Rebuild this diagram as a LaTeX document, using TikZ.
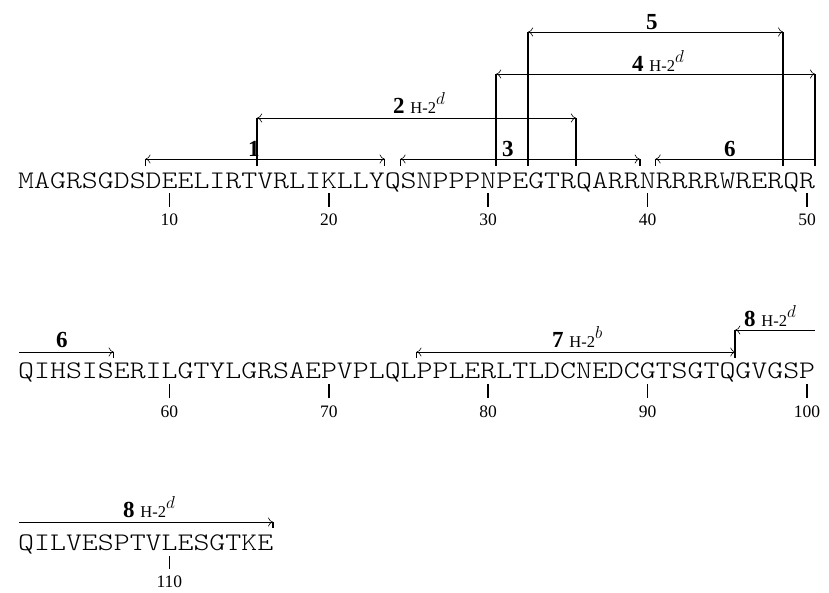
\documentclass[tikz,border=0pt]{standalone}
\usepackage{fontspec}
\setmainfont{Liberation Serif}
\newfontfamily\seqfont[FakeStretch=1.2]{Latin Modern Mono Light}
\usetikzlibrary{arrows.meta}

\newcommand{\cw}{15.94}
\newcommand{\hd}[1]{{\mdseries\fontsize{16.5}{17}\selectfont H-2\raisebox{9pt}{\fontsize{17}{17}\selectfont$#1$}}}

\tikzset{
  seq/.style={font=\seqfont\fontsize{25.3}{30}\selectfont, inner sep=0pt, anchor=base west},
  num/.style={font=\fontsize{17.5}{18}\selectfont, inner sep=0pt, anchor=base},
  epi/.style={font=\bfseries\fontsize{23}{24}\selectfont, inner sep=0pt, anchor=base west},
  region/.style={line width=0.6pt},
  endbar/.style={line width=1.7pt},
}

\begin{document}
\begin{tikzpicture}[x=1pt,y=-1pt,>={Computer Modern Rightarrow[length=5pt,width=9pt]}]
    \useasboundingbox (0,0) rectangle (829,592);
    %sequence
    \node[seq] (row1) at (18,188) {MAGRSGDSDEELIRTVRLIKLLYQSNPPPNPEGTRQARRNRRRRWRERQR};
    \node[seq] (row2) at (18,378) {QIHSISERILGTYLGRSAEPVPLQLPPLERLTLDCNEDCGTSGTQGVGSP};
    \node[seq] (row3) at (18,550) {QILVESPTVLESGTKE};
    %numbering
    \foreach \i in {1,...,5} {
      \draw[endbar] ({18+(10*\i-0.5)*\cw},193) -- ({18+(10*\i-0.5)*\cw},207);
      \node[num] (n1-\i) at ({18+(10*\i-0.5)*\cw},225) {\number\numexpr10*\i\relax};
      \draw[endbar] ({18+(10*\i-0.5)*\cw},384) -- ({18+(10*\i-0.5)*\cw},398);
      \node[num] (n2-\i) at ({18+(10*\i-0.5)*\cw},417) {\number\numexpr50+10*\i\relax};
    }
    \draw[endbar] ({18+9.5*\cw},556) -- ({18+9.5*\cw},569);
    \node[num] (n3-1) at ({18+9.5*\cw},587) {110};
    %ends, first line
    \coordinate (base1) at (0,166);
    \coordinate (one-l) at ({18+8*\cw},159);
    \coordinate (one-r) at ({18+23*\cw},159);
    \coordinate (two-l) at ({18+15*\cw},118);
    \coordinate (two-r) at ({18+35*\cw},118);
    \coordinate (three-l) at ({18+24*\cw},159);
    \coordinate (three-r) at ({18+39*\cw},159);
    \coordinate (four-l) at ({18+30*\cw},74);
    \coordinate (four-r) at ({18+50*\cw},74);
    \coordinate (five-l) at ({18+32*\cw},32);
    \coordinate (five-r) at ({18+48*\cw},32);
    \coordinate (six-l) at ({18+40*\cw},159);
    \coordinate (six-r) at ({18+50*\cw},159);
    %ends, second and third line
    \coordinate (base2) at (0,358);
    \coordinate (sixb-l) at (19,352);
    \coordinate (sixb-r) at ({18+6*\cw},352);
    \coordinate (seven-l) at ({18+25*\cw},352);
    \coordinate (seven-r) at ({18+45*\cw},352);
    \coordinate (eight-l) at ({18+45*\cw},330);
    \coordinate (eight-r) at ({18+50*\cw},330);
    \coordinate (base3) at (0,528);
    \coordinate (eightb-l) at (19,522);
    \coordinate (eightb-r) at ({18+16*\cw},522);
    %bars and ticks
    \foreach \e in {one-l,one-r,three-l,three-r,six-l,two-l,two-r,four-l,four-r,five-l,five-r}
      \draw[endbar] (\e) -- (\e |- base1);
    \foreach \e in {sixb-r,seven-l,seven-r,eight-l}
      \draw[endbar] (\e) -- (\e |- base2);
    \draw[endbar] (eightb-r) -- (eightb-r |- base3);
    %epitopes
    \draw[region,<->] (one-l) -- (one-r);
    \draw[region,<->] (two-l) -- (two-r);
    \draw[region,<->] (three-l) -- (three-r);
    \draw[region,<->] (four-l) -- (four-r);
    \draw[region,<->] (five-l) -- (five-r);
    \draw[region,<-] (six-l) -- (six-r);
    \draw[region,->] (sixb-l) -- (sixb-r);
    \draw[region,<->] (seven-l) -- (seven-r);
    \draw[region,<-] (eight-l) -- (eight-r);
    \draw[region,->] (eightb-l) -- (eightb-r);
    %labels
    \node[epi] (lab1) at (248,156) {1};
    \node[epi] (lab2) at (393,113) {2 \hd{d}};
    \node[epi] (lab3) at (502,156) {3};
    \node[epi] (lab4) at (632,71) {4 \hd{d}};
    \node[epi] (lab5) at (646,29) {5};
    \node[epi] (lab6) at (724,156) {6};
    \node[epi] (lab6b) at (56,347) {6};
    \node[epi] (lab7) at (552,347) {7 \hd{b}};
    \node[epi] (lab8) at (744,326) {8 \hd{d}};
    \node[epi] (lab8b) at (123,517) {8 \hd{d}};
  \end{tikzpicture}
\end{document}
